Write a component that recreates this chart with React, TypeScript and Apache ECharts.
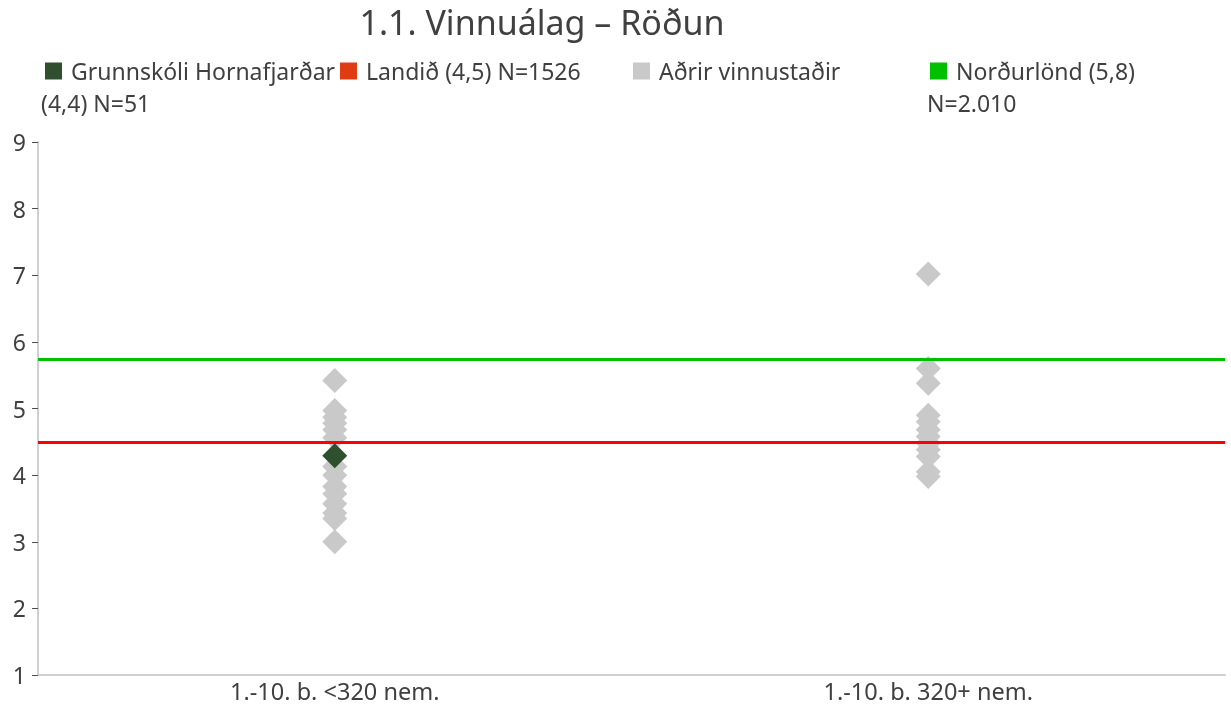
import React, { useEffect, useRef } from "react";
import * as echarts from "echarts";

const categories = ["1.-10. b. <320 nem.", "1.-10. b. 320+ nem."];
const otherSmall = [5.42, 4.97, 4.87, 4.78, 4.68, 4.56, 4.13, 4.0, 3.83, 3.72, 3.57, 3.43, 3.35, 3.0];
const otherLarge = [7.02, 5.6, 5.38, 4.9, 4.8, 4.68, 4.58, 4.48, 4.38, 4.28, 4.05, 3.98];
const schoolValue = [4.29];
const schoolCategory = 0;
const landidValue = 4.5;
const nordurlondValue = 5.74;
const yTicks = [1, 9, 1];

const FONT = "Noto Sans";
const TXT = "#404040";

export default function App() {
  const ref = useRef<HTMLDivElement>(null);
  useEffect(() => {
    if (!ref.current) return;
    const chart = echarts.init(ref.current, undefined, { renderer: "svg" });
    const others = [
      ...otherSmall.map((v) => [0, v]),
      ...otherLarge.map((v) => [1, v]),
    ];
    const legendBase = {
      icon: "rect",
      itemWidth: 17,
      itemHeight: 17,
      itemGap: 0,
      textStyle: { fontFamily: FONT, fontSize: 23, lineHeight: 26, color: TXT, padding: [0, 0, 0, 4] },
      padding: 0,
    };
    chart.setOption({
      animation: false,
      textStyle: { fontFamily: FONT },
      title: {
        text: "1.1. Vinnuálag – Röðun",
        left: 537,
        textAlign: "center",
        top: 0,
        textStyle: { fontFamily: FONT, fontSize: 34, fontWeight: "normal", color: TXT },
      },
      legend: [
        { ...legendBase, data: ["Grunnskóli Hornafjarðar"], left: 45, top: 58 },
        { ...legendBase, data: ["Landið (4,5) N=1526"], left: 340, top: 58 },
        { ...legendBase, data: ["Aðrir vinnustaðir"], left: 633, top: 58 },
        { ...legendBase, data: ["Norðurlönd (5,8)"], left: 930, top: 58 },
      ],
      graphic: [
        { type: "text", left: 41, top: 90, style: { text: "(4,4) N=51", fontFamily: FONT, fontSize: 23, lineHeight: 26, fill: TXT } },
        { type: "text", left: 927, top: 90, style: { text: "N=2.010", fontFamily: FONT, fontSize: 23, lineHeight: 26, fill: TXT } },
      ],
      grid: { left: 38, right: 6, top: 142, bottom: 34, containLabel: false },
      xAxis: {
        type: "category",
        data: categories,
        boundaryGap: true,
        axisLine: { lineStyle: { color: "#d0d0d0", width: 2 } },
        axisTick: { show: false },
        axisLabel: { fontFamily: FONT, fontSize: 23.5, color: TXT, margin: 4 },
        splitLine: { show: false },
      },
      yAxis: {
        type: "value",
        min: yTicks[0],
        max: yTicks[1],
        interval: yTicks[2],
        axisLine: { show: true, lineStyle: { color: "#d0d0d0", width: 2 } },
        axisTick: { show: true, length: 6, lineStyle: { color: "#505050", width: 1 } },
        axisLabel: { fontFamily: FONT, fontSize: 23, color: TXT, margin: 12 },
        splitLine: { show: false },
      },
      series: [
        {
          name: "Aðrir vinnustaðir",
          type: "scatter",
          symbol: "diamond",
          symbolSize: 25,
          itemStyle: { color: "#c9c9c9", opacity: 1 },
          data: others,
          z: 2,
        },
        {
          name: "Landið (4,5) N=1526",
          type: "scatter",
          data: [],
          itemStyle: { color: "#e03c14", opacity: 1 },
          markLine: {
            silent: true,
            symbol: "none",
            label: { show: false },
            lineStyle: { color: "#ff0000", width: 3, type: "solid", opacity: 1 },
            data: [{ yAxis: landidValue }],
          },
          z: 3,
        },
        {
          name: "Norðurlönd (5,8)",
          type: "scatter",
          data: [],
          itemStyle: { color: "#00c000", opacity: 1 },
          markLine: {
            silent: true,
            symbol: "none",
            label: { show: false },
            lineStyle: { color: "#00c000", width: 3, type: "solid", opacity: 1 },
            data: [{ yAxis: nordurlondValue }],
          },
          z: 3,
        },
        {
          name: "Grunnskóli Hornafjarðar",
          type: "scatter",
          symbol: "diamond",
          symbolSize: 25,
          itemStyle: { color: "#2f4f2f", opacity: 1 },
          data: schoolValue.map((v) => [schoolCategory, v]),
          z: 5,
        },
      ],
    });
    return () => chart.dispose();
  }, []);
  return <div ref={ref} style={{ position: "fixed", left: 0, top: 0, width: 1231, height: 709 }} />;
}
